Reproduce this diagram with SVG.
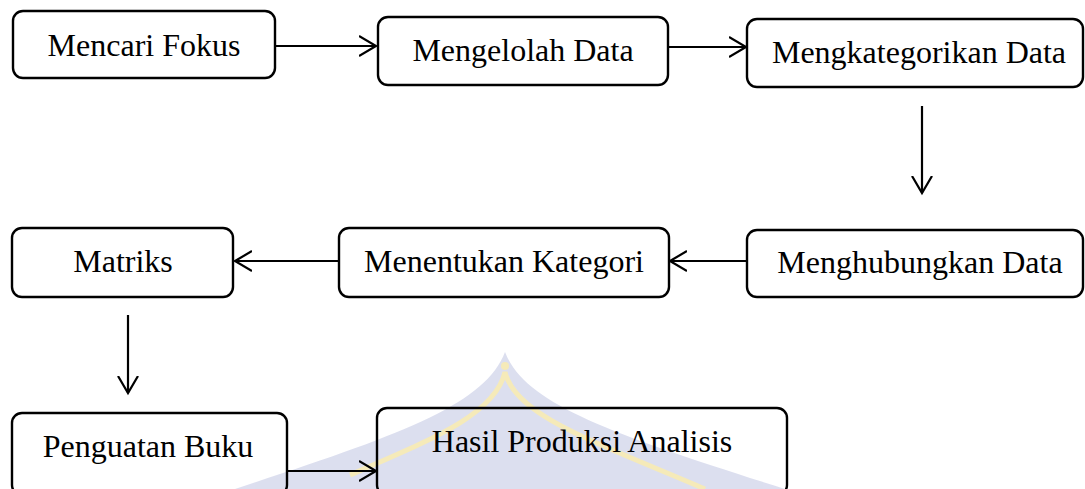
<svg xmlns="http://www.w3.org/2000/svg" width="1085" height="489" viewBox="0 0 1085 489">
<style>
.box{fill:none;stroke:#000;stroke-width:2.4}
.lbl{font-family:"Liberation Serif","Times New Roman",serif;font-size:32px;fill:#000;text-anchor:middle}
.con{stroke:#000;stroke-width:2.2;fill:none}
</style>
<defs>
<marker id="arr" markerUnits="userSpaceOnUse" markerWidth="22" markerHeight="24" refX="17" refY="11" orient="auto">
<path d="M0,1 L17,11 L0,21" fill="none" stroke="#000" stroke-width="2.2"/>
</marker>
</defs>
<rect width="1085" height="489" fill="#fff"/>
<g id="watermark" opacity="0.9">
<path d="M505,352 C485,405 400,435 235,489 L785,489 C615,435 525,405 505,352 Z" fill="#d9dcee"/>
<path d="M350,475 C430,440 495,415 505,372 C515,415 590,440 705,489" fill="none" stroke="#f4e8b2" stroke-width="5"/>
<circle cx="505" cy="366" r="4" fill="#f4e8b2"/>
</g>
<g id="n1"><rect class="box" x="13" y="11" width="262" height="67" rx="10"/><text class="lbl" x="144" y="56">Mencari Fokus</text></g>
<g id="n2"><rect class="box" x="378" y="17" width="290" height="68" rx="10"/><text class="lbl" x="523" y="61">Mengelolah Data</text></g>
<g id="n3"><rect class="box" x="747" y="19" width="336" height="68" rx="10"/><text class="lbl" x="919" y="63">Mengkategorikan Data</text></g>
<g id="n4"><rect class="box" x="747" y="230" width="336" height="67" rx="10"/><text class="lbl" x="920" y="273">Menghubungkan Data</text></g>
<g id="n5"><rect class="box" x="339" y="228" width="330" height="69" rx="10"/><text class="lbl" x="504" y="272">Menentukan Kategori</text></g>
<g id="n6"><rect class="box" x="12" y="228" width="221" height="69" rx="10"/><text class="lbl" x="123" y="272">Matriks</text></g>
<g id="n7"><rect class="box" x="12" y="413" width="275" height="82" rx="10"/><text class="lbl" x="148" y="457">Penguatan Buku</text></g>
<g id="n8"><rect class="box" x="377" y="408" width="410" height="87" rx="10"/><text class="lbl" x="582" y="452">Hasil Produksi Analisis</text></g>
<g id="connectors">
<line class="con" x1="275" y1="46" x2="376" y2="46" marker-end="url(#arr)"/>
<line class="con" x1="668" y1="47" x2="746" y2="47" marker-end="url(#arr)"/>
<line class="con" x1="922" y1="106" x2="922" y2="193" marker-end="url(#arr)"/>
<line class="con" x1="747" y1="261" x2="670" y2="261" marker-end="url(#arr)"/>
<line class="con" x1="339" y1="261" x2="235" y2="261" marker-end="url(#arr)"/>
<line class="con" x1="128" y1="315" x2="128" y2="393" marker-end="url(#arr)"/>
<line class="con" x1="287" y1="471" x2="376" y2="471" marker-end="url(#arr)"/>
</g>
</svg>
